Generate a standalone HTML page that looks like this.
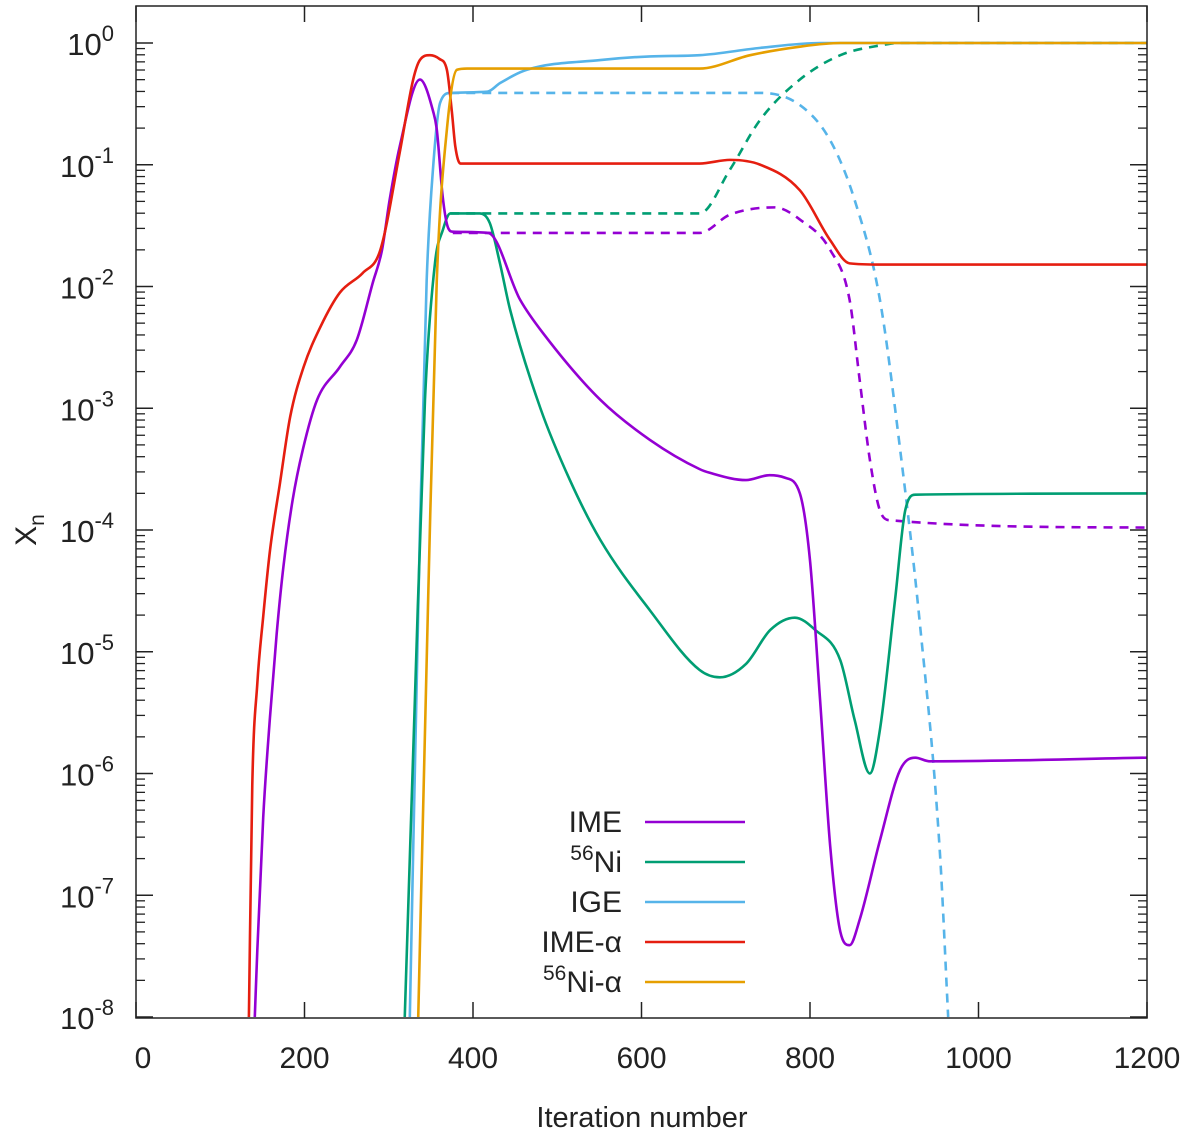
<!DOCTYPE html>
<html><head><meta charset="utf-8"><style>
body{margin:0;background:#fff}
svg{display:block;font-family:"Liberation Sans","DejaVu Sans",sans-serif}
</style></head><body>
<svg id="chart" width="1200" height="1135" viewBox="0 0 1200 1135">
<defs><clipPath id="clip"><rect x="136" y="6" width="1011" height="1012"/></clipPath></defs>
<g id="grid"></g>
<g id="series" clip-path="url(#clip)"></g>
<rect x="136" y="6" width="1011" height="1012" fill="none" stroke="#222" stroke-width="1.5"/>
<g id="legend"></g>
<text x="642" y="1127" font-size="29" text-anchor="middle" fill="#222">Iteration number</text>
<text transform="translate(36,530) rotate(-90)" font-size="30" text-anchor="middle" fill="#222">X<tspan font-size="21" dy="8">n</tspan></text>
</svg>
<script>
const xTicks=[0,200,400,600,800,1000,1200];
const yExps=[0,-1,-2,-3,-4,-5,-6,-7,-8];
const imeX=[141,144,151,159,167,175,186,198,215,242,262,281,292,301,313,337,353,357,364,370,376,418,456,485,551,610,669,681,724,752,770,788,800,812,824,836,847,859,883,907,925,942,1200];
const imeY=[-8,-7.45,-6.36,-5.54,-4.85,-4.30,-3.75,-3.34,-2.93,-2.66,-2.44,-1.97,-1.70,-1.29,-0.85,-0.3,-0.57,-0.71,-1.26,-1.51,-1.55,-1.56,-2.11,-2.4,-2.93,-3.26,-3.5,-3.53,-3.59,-3.55,-3.57,-3.7,-4.25,-5.4,-6.6,-7.3,-7.41,-7.2,-6.55,-5.97,-5.87,-5.9,-5.87];
const imeDX=[376,669,705,758,788,824,847,859,871,883,895,1200];
const imeDY=[-1.56,-1.56,-1.41,-1.35,-1.45,-1.7,-2.11,-2.77,-3.42,-3.84,-3.92,-3.98];
const niX=[319,331,343,355,364,373,408,420,432,444,480,515,551,610,669,693,724,753,782,806,836,853,871,883,901,913,925,1200];
const niY=[-8,-5.4,-2.93,-1.8,-1.54,-1.40,-1.40,-1.48,-1.81,-2.19,-3.0,-3.59,-4.08,-4.66,-5.15,-5.21,-5.1,-4.82,-4.72,-4.82,-5.07,-5.56,-6.0,-5.64,-4.57,-3.84,-3.71,-3.70];
const niDX=[373,669,705,741,788,836,883,907,1200];
const niDY=[-1.40,-1.40,-1.04,-0.63,-0.30,-0.10,-0.02,0,0];
const igeX=[325,337,345,353,361,373,417,432,464,551,610,669,741,812,1200];
const igeY=[-8,-4.0,-1.95,-0.99,-0.49,-0.41,-0.40,-0.33,-0.22,-0.14,-0.11,-0.1,-0.04,0,0];
const igeDX=[373,741,788,824,853,883,907,930,954,964];
const igeDY=[-0.41,-0.41,-0.51,-0.8,-1.29,-2.11,-3.34,-4.74,-6.63,-8];
const imeaX=[134,138,144,151,159,171,183,199,219,242,269,290,313,329,337,349,360,369,375,379,385,396,669,705,741,788,824,847,883,1200];
const imeaY=[-8,-6.1,-5.26,-4.71,-4.17,-3.61,-3.07,-2.66,-2.33,-2.05,-1.89,-1.70,-0.9,-0.3,-0.14,-0.1,-0.13,-0.22,-0.57,-0.85,-0.99,-0.99,-0.99,-0.96,-1.0,-1.21,-1.62,-1.81,-1.82,-1.82];
const niaX=[335,347,357,369,381,393,669,729,788,836,1200];
const niaY=[-8,-4.5,-1.95,-0.71,-0.22,-0.21,-0.21,-0.1,-0.03,0,0];

const X0=136,X1=1147,Y0=43,DEC=121.75,YB=1018,YT=6;
const sx=v=>X0+(v/1200)*(X1-X0);
const sy=e=>Y0-e*DEC;
const NS="http://www.w3.org/2000/svg";
function mk(tag,attrs,parent){const e=document.createElementNS(NS,tag);for(const k in attrs)e.setAttribute(k,attrs[k]);parent.appendChild(e);return e;}
const grid=document.getElementById('grid'),ser=document.getElementById('series'),leg=document.getElementById('legend');
xTicks.forEach(t=>{const x=sx(t);
 const a=mk('line',{x1:x,x2:x,y1:YB,y2:YB-16,stroke:'#222','stroke-width':1.5},grid);
 
 
 const b=mk('line',{x1:x,x2:x,y1:YT,y2:YT+16,stroke:'#222','stroke-width':1.5},grid);
 
 
 const l=mk('text',{x:x+(t===0?7:0),y:1068,'font-size':30,'text-anchor':'middle',fill:'#222'},grid);l.textContent=t;
 
 
});
yExps.forEach(e=>{const y=sy(e);
 [[X0,1],[X1,-1]].forEach(([x,d])=>{
  const m=mk('line',{x1:x,x2:x+d*17,y1:y,y2:y,stroke:'#222','stroke-width':1.5},grid);
  
  
  if(e>-8)for(let k=2;k<10;k++){const yy=sy(e-1+Math.log10(k));
   const n=mk('line',{x1:x,x2:x+d*9,y1:yy,y2:yy,stroke:'#222','stroke-width':1.3},grid);
   
   }
 });
 const l=mk('text',{x:114,y:y+12,'font-size':31,'text-anchor':'end',fill:'#222'},grid);
 l.innerHTML='10<tspan font-size="22" dy="-14">'+e+'</tspan>';
 
 
});
function smoothPath(px,py){
 const n=px.length;if(n<3)return 'M'+px[0]+','+py[0]+'L'+px[1]+','+py[1];
 const d=[],m=new Array(n);
 for(let i=0;i<n-1;i++)d.push((py[i+1]-py[i])/(px[i+1]-px[i]));
 m[0]=d[0];m[n-1]=d[n-2];
 for(let i=1;i<n-1;i++){m[i]=(d[i-1]*d[i]<=0)?0:(d[i-1]+d[i])/2;}
 for(let i=0;i<n-1;i++){if(d[i]===0){m[i]=0;m[i+1]=0;continue;}
  const a=m[i]/d[i],b=m[i+1]/d[i],s=a*a+b*b;if(s>9){const t=3/Math.sqrt(s);m[i]=t*a*d[i];m[i+1]=t*b*d[i];}}
 let s='M'+px[0]+','+py[0];
 for(let i=0;i<n-1;i++){const h=(px[i+1]-px[i])/3;
  s+=' C'+(px[i]+h)+','+(py[i]+m[i]*h)+' '+(px[i+1]-h)+','+(py[i+1]-m[i+1]*h)+' '+px[i+1]+','+py[i+1];}
 return s;
}
function line(xs,ys,col,dash,name){
 const p=mk('path',{d:smoothPath(xs.map(sx),ys.map(sy)),fill:'none',stroke:col,'stroke-width':2.6,'stroke-linejoin':'round'},ser);
 if(dash)p.setAttribute('stroke-dasharray','9 7');
 
 
}
const C={ime:'#9400d3',ni:'#009e73',ige:'#56b4e9',imea:'#e51e10',nia:'#e69f00'};
line(imeDX,imeDY,C.ime,1,'ime-dashed-line');
line(niDX,niDY,C.ni,1,'ni56-dashed-line');
line(igeDX,igeDY,C.ige,1,'ige-dashed-line');
line(igeX,igeY,C.ige,0,'ige-line');
line(niX,niY,C.ni,0,'ni56-line');
line(imeX,imeY,C.ime,0,'ime-line');
line(imeaX,imeaY,C.imea,0,'ime-alpha-line');
line(niaX,niaY,C.nia,0,'ni56-alpha-line');
const L=[['IME',C.ime,''],['Ni',C.ni,'56'],['IGE',C.ige,''],['IME-α',C.imea,''],['Ni-α',C.nia,'56']];
L.forEach((r,i)=>{const y=822+i*40;
 const t=mk('text',{x:622,y:y+10,'font-size':30,'text-anchor':'end',fill:'#222'},leg);
 t.innerHTML=(r[2]?'<tspan font-size="21" dy="-12">56</tspan><tspan dy="12">'+r[0]+'</tspan>':r[0]);
 
 
 const s=mk('line',{x1:645,x2:745,y1:y,y2:y,stroke:r[1],'stroke-width':2.6},leg);
 
 
});
</script>
</body></html>
